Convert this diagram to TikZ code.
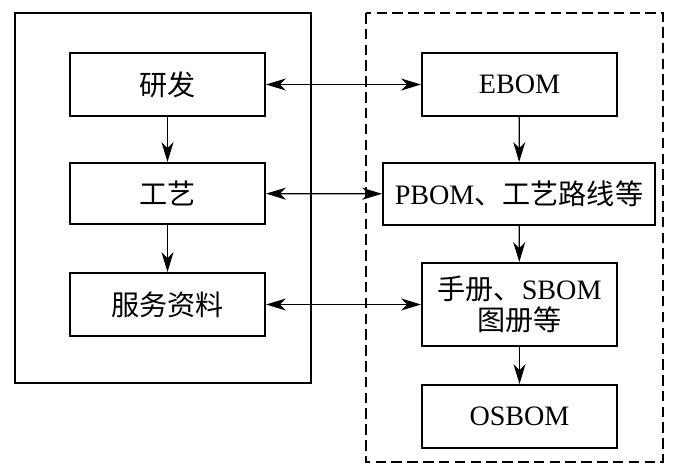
\documentclass[tikz,border=0pt]{standalone}
\usepackage{fontspec}
\setmainfont{Liberation Serif}
\newfontfamily\cjk{Noto Sans CJK SC}
\usetikzlibrary{arrows.meta}

\begin{document}
\begin{tikzpicture}[x=0.03cm,y=-0.03cm,
        box/.style={draw=black,line width=1.6pt,minimum width=5.85cm,minimum height=1.89cm,inner sep=0pt,align=center,font=\fontsize{24}{29}\selectfont},
        flow/.style={line width=1.1pt,-{Stealth[length=6mm,width=3.6mm,inset=1.8mm]}},
        both/.style={line width=1.1pt,{Stealth[length=6mm,width=3.6mm,inset=1.8mm]}-{Stealth[length=6mm,width=3.6mm,inset=1.8mm]}}]
        \useasboundingbox (0,0) rectangle (675,474);
        \draw [black,line width=1.5pt] (15,13) rectangle (311,383);
        \draw [black,line width=1.4pt,dash pattern=on 9pt off 4.5pt] (366,13) rectangle (663,462);
        \node [box] (yanfa) at (167.5,84.5) {\cjk 研发};
        \node [box,minimum height=1.83cm] (gongyi) at (167.5,193.5) {\cjk 工艺};
        \node [box] (fuwu) at (167.5,304.5) {\cjk 服务资料};
        \node [box] (ebom) at (519.5,84.5) {EBOM};
        \node [box,minimum width=8.16cm,minimum height=1.86cm] (pbom) at (519,194) {PBOM{\cjk 、工艺路线等}};
        \node [box,minimum height=2.49cm] (sbom) at (519.5,304.5) {{\cjk 手册、}SBOM\\[-2pt]{\cjk 图册等}};
        \node [box] (osbom) at (519.5,416.5) {OSBOM};
        \draw [flow] (yanfa) -- (gongyi);
        \draw [flow] (gongyi) -- (fuwu);
        \draw [flow] (ebom) -- (pbom);
        \draw [flow] (pbom) -- (sbom);
        \draw [flow] (sbom) -- (osbom);
        \draw [both] (yanfa) -- (ebom);
        \draw [both] (gongyi) -- (pbom);
        \draw [both] (fuwu) -- (sbom);
    \end{tikzpicture}
\end{document}
